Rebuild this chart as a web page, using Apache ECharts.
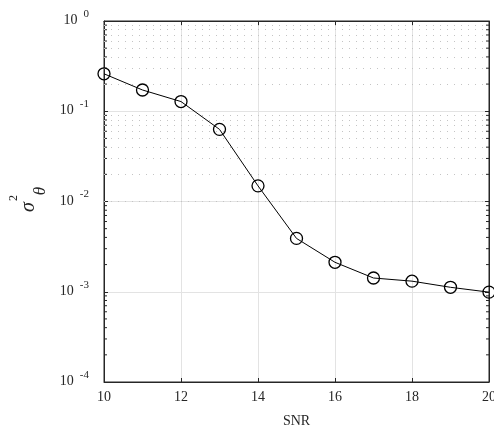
<!DOCTYPE html>
<html><head><meta charset="utf-8">
<script src="https://cdn.jsdelivr.net/npm/echarts@6/dist/echarts.min.js"></script>
<style>html,body{margin:0;padding:0;background:#fff}#c{width:494px;height:435px}</style>
</head><body><div id="c"></div>
<script>
var snr = [10, 11, 12, 13, 14, 15, 16, 17, 18, 19, 20];
var variance = [0.26, 0.172, 0.128, 0.063, 0.0149, 0.0039, 0.00212, 0.00142, 0.00131, 0.00112, 0.00099];
var xTicks = [10, 12, 14, 16, 18, 20];
var yDecades = [1e-4, 1e-3, 1e-2, 1e-1, 1];
var yMinor = [];
[1e-4, 1e-3, 1e-2, 1e-1].forEach(function (d) { for (var k = 2; k <= 9; k++) yMinor.push(+(k * d).toPrecision(3)); });

var FONT = '"Liberation Serif", "DejaVu Serif", serif';
var AXC = '#262626';
var chart = echarts.init(document.getElementById('c'));
chart.setOption({
  animation: false,
  grid: { left: 104, top: 21, right: 5, bottom: 53, show: true, borderColor: AXC, borderWidth: 1, backgroundColor: 'transparent', containLabel: false, outerBoundsMode: 'none' },
  xAxis: [{
    type: 'value', min: 10, max: 20, interval: 2,
    axisLine: { show: true, onZero: false, lineStyle: { color: AXC } },
    axisTick: { inside: true, length: 4, lineStyle: { color: AXC } },
    axisLabel: { color: '#262626', fontFamily: FONT, fontSize: 14, margin: 8 },
    splitLine: { show: true, lineStyle: { color: '#e3e3e3', width: 1 } },
    name: 'SNR', nameLocation: 'middle', nameGap: 32,
    nameTextStyle: { color: '#262626', fontFamily: FONT, fontSize: 14 }
  }, {
    type: 'value', min: 10, max: 20, interval: 2, position: 'top',
    axisLine: { show: true, lineStyle: { color: AXC } },
    axisTick: { inside: true, length: 4, lineStyle: { color: AXC } },
    axisLabel: { show: false }, splitLine: { show: false }
  }],
  yAxis: [{
    type: 'log', logBase: 10, min: 1e-4, max: 1,
    axisLine: { show: true, lineStyle: { color: AXC } },
    axisTick: { inside: true, length: 4, lineStyle: { color: AXC } },
    splitLine: { show: true, lineStyle: { color: '#e3e3e3', width: 1 } },
    axisLabel: {
      margin: 15,
      padding: [0, 0, 6, 0],
      formatter: function (v) {
        var e = Math.round(Math.log10(v));
        return '{b|10}{s|' + e + '}';
      },
      rich: {
        b: { fontFamily: FONT, fontSize: 14, color: '#262626', verticalAlign: 'bottom', lineHeight: 19 },
        s: { fontFamily: FONT, fontSize: 11, color: '#262626', verticalAlign: 'top', lineHeight: 19, padding: [0, 0, 0, 6] }
      }
    }
  }, {
    type: 'log', logBase: 10, min: 1e-4, max: 1, position: 'right',
    axisLine: { show: true, lineStyle: { color: AXC } },
    axisTick: { inside: true, length: 4, lineStyle: { color: AXC } },
    axisLabel: { show: false }, splitLine: { show: false }
  }],
  series: [{
    type: 'line', data: [], silent: true,
    markLine: {
      silent: true, symbol: 'none', label: { show: false },
      lineStyle: { color: '#c4c4c4', type: [1, 6], width: 1 },
      data: yMinor.map(function (v) { return { yAxis: v }; })
    }
  }, {
    type: 'custom', silent: true, clip: false,
    data: yMinor.map(function (v) { return [10, v]; }),
    renderItem: function (params, api) {
      var v = api.value(1);
      var l = api.coord([10, v]);
      var r = api.coord([20, v]);
      return { type: 'group', children: [
        { type: 'line', shape: { x1: l[0], y1: l[1], x2: l[0] + 3, y2: l[1] }, style: { stroke: AXC, lineWidth: 1 } },
        { type: 'line', shape: { x1: r[0], y1: r[1], x2: r[0] - 3, y2: r[1] }, style: { stroke: AXC, lineWidth: 1 } }
      ] };
    }
  }, {
    type: 'line',
    data: snr.map(function (x, i) { return [x, variance[i]]; }),
    symbol: 'circle', symbolSize: 12, clip: false,
    lineStyle: { color: '#000', width: 1 },
    itemStyle: { color: 'transparent', borderColor: '#000', borderWidth: 1.3 },
    z: 10
  }],
  graphic: [
    { type: 'text', x: 29, y: 207, rotation: Math.PI / 2, style: { text: 'σ', font: 'italic 20px ' + FONT, fill: '#262626', textAlign: 'center', textVerticalAlign: 'middle' } },
    { type: 'text', x: 14, y: 198, rotation: Math.PI / 2, style: { text: '2', font: '12px ' + FONT, fill: '#262626', textAlign: 'center', textVerticalAlign: 'middle' } },
    { type: 'text', x: 41, y: 191, rotation: Math.PI / 2, style: { text: 'θ', font: 'italic 17px ' + FONT, fill: '#262626', textAlign: 'center', textVerticalAlign: 'middle' } }
  ]
});
</script></body></html>
